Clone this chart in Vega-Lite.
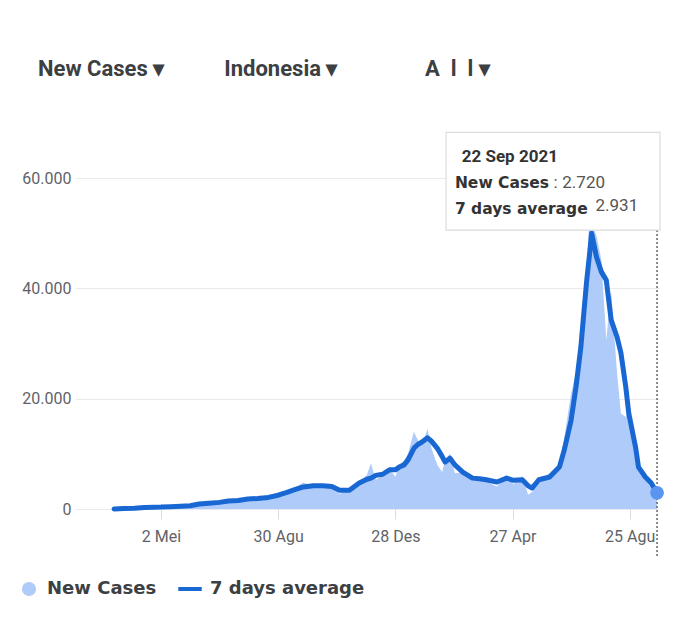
{
  "$schema": "https://vega.github.io/schema/vega-lite/v6.json",
  "autosize": {"type": "none"},
  "padding": {"left": 75, "top": 134, "right": 28, "bottom": 128},
  "width": 584,
  "height": 375,
  "background": "white",
  "title": {
    "text": "New Cases ▾\u00a0\u00a0\u00a0\u00a0\u00a0\u00a0\u00a0\u00a0\u00a0\u00a0\u00a0Indonesia ▾\u00a0\u00a0\u00a0\u00a0\u00a0\u00a0\u00a0\u00a0\u00a0\u00a0\u00a0\u00a0\u00a0\u00a0\u00a0\u00a0A\u00a0\u00a0l\u00a0\u00a0l\u00a0▾",
    "anchor": "start",
    "frame": "group",
    "dx": -37,
    "offset": 51,
    "font": "Roboto",
    "fontSize": 22,
    "fontWeight": "bold",
    "color": "#3c4043"
  },
  "config": {
    "view": {"stroke": null},
    "locale": {
      "number": {"decimal": ",", "thousands": ".", "grouping": [3], "currency": ["Rp", ""]},
      "time": {
        "dateTime": "%A, %e %B %Y %H.%M.%S",
        "date": "%d/%m/%Y",
        "time": "%H.%M.%S",
        "periods": ["AM", "PM"],
        "days": ["Minggu", "Senin", "Selasa", "Rabu", "Kamis", "Jumat", "Sabtu"],
        "shortDays": ["Min", "Sen", "Sel", "Rab", "Kam", "Jum", "Sab"],
        "months": ["Januari", "Februari", "Maret", "April", "Mei", "Juni", "Juli", "Agustus", "September", "Oktober", "November", "Desember"],
        "shortMonths": ["Jan", "Feb", "Mar", "Apr", "Mei", "Jun", "Jul", "Agu", "Sep", "Okt", "Nov", "Des"]
      }
    }
  },
  "data": {
    "values": [
      {"date": "2020-03-15", "cases": 20, "avg": 15},
      {"date": "2020-03-25", "cases": 100, "avg": 80},
      {"date": "2020-04-05", "cases": 180, "avg": 150},
      {"date": "2020-04-15", "cases": 300, "avg": 280},
      {"date": "2020-04-25", "cases": 400, "avg": 330},
      {"date": "2020-05-02", "cases": 290, "avg": 350},
      {"date": "2020-05-12", "cases": 480, "avg": 420},
      {"date": "2020-05-22", "cases": 600, "avg": 520},
      {"date": "2020-06-01", "cases": 460, "avg": 600},
      {"date": "2020-06-10", "cases": 1200, "avg": 900},
      {"date": "2020-06-20", "cases": 1230, "avg": 1050},
      {"date": "2020-07-01", "cases": 1300, "avg": 1200},
      {"date": "2020-07-10", "cases": 1600, "avg": 1450},
      {"date": "2020-07-20", "cases": 1700, "avg": 1550},
      {"date": "2020-07-30", "cases": 2000, "avg": 1800},
      {"date": "2020-08-09", "cases": 1900, "avg": 1900},
      {"date": "2020-08-20", "cases": 2200, "avg": 2100},
      {"date": "2020-08-30", "cases": 2900, "avg": 2500},
      {"date": "2020-09-08", "cases": 3000, "avg": 3000},
      {"date": "2020-09-16", "cases": 3900, "avg": 3500},
      {"date": "2020-09-25", "cases": 4800, "avg": 4000},
      {"date": "2020-10-05", "cases": 4000, "avg": 4200},
      {"date": "2020-10-15", "cases": 4400, "avg": 4200},
      {"date": "2020-10-24", "cases": 4300, "avg": 4100},
      {"date": "2020-11-01", "cases": 2700, "avg": 3400},
      {"date": "2020-11-11", "cases": 3800, "avg": 3400},
      {"date": "2020-11-21", "cases": 4800, "avg": 4700},
      {"date": "2020-11-29", "cases": 6200, "avg": 5400},
      {"date": "2020-12-03", "cases": 8300, "avg": 5600},
      {"date": "2020-12-08", "cases": 5300, "avg": 6100},
      {"date": "2020-12-15", "cases": 6100, "avg": 6300},
      {"date": "2020-12-22", "cases": 7400, "avg": 7100},
      {"date": "2020-12-28", "cases": 5800, "avg": 7100},
      {"date": "2021-01-01", "cases": 8000, "avg": 7600},
      {"date": "2021-01-06", "cases": 8800, "avg": 8000},
      {"date": "2021-01-10", "cases": 10000, "avg": 8900},
      {"date": "2021-01-16", "cases": 14000, "avg": 11000},
      {"date": "2021-01-20", "cases": 12500, "avg": 11700},
      {"date": "2021-01-24", "cases": 11500, "avg": 12100},
      {"date": "2021-01-30", "cases": 14500, "avg": 12900},
      {"date": "2021-02-03", "cases": 11000, "avg": 12300},
      {"date": "2021-02-09", "cases": 8000, "avg": 11000},
      {"date": "2021-02-14", "cases": 6700, "avg": 9500},
      {"date": "2021-02-17", "cases": 9000, "avg": 8500},
      {"date": "2021-02-22", "cases": 10000, "avg": 9200},
      {"date": "2021-02-27", "cases": 6500, "avg": 8000},
      {"date": "2021-03-07", "cases": 6600, "avg": 6700},
      {"date": "2021-03-17", "cases": 6000, "avg": 5600},
      {"date": "2021-03-24", "cases": 5200, "avg": 5500},
      {"date": "2021-03-31", "cases": 5000, "avg": 5300},
      {"date": "2021-04-11", "cases": 4100, "avg": 4900},
      {"date": "2021-04-21", "cases": 6000, "avg": 5600},
      {"date": "2021-04-28", "cases": 4500, "avg": 5200},
      {"date": "2021-05-07", "cases": 6000, "avg": 5300},
      {"date": "2021-05-13", "cases": 2600, "avg": 4200},
      {"date": "2021-05-17", "cases": 3100, "avg": 3800},
      {"date": "2021-05-24", "cases": 4900, "avg": 5300},
      {"date": "2021-06-04", "cases": 6500, "avg": 5800},
      {"date": "2021-06-14", "cases": 8200, "avg": 7600},
      {"date": "2021-06-19", "cases": 12900, "avg": 10700},
      {"date": "2021-06-26", "cases": 21000, "avg": 16100},
      {"date": "2021-07-01", "cases": 24800, "avg": 22100},
      {"date": "2021-07-06", "cases": 31200, "avg": 29400},
      {"date": "2021-07-09", "cases": 38100, "avg": 35500},
      {"date": "2021-07-12", "cases": 40400, "avg": 41500},
      {"date": "2021-07-15", "cases": 56700, "avg": 46400},
      {"date": "2021-07-17", "cases": 51900, "avg": 50000},
      {"date": "2021-07-22", "cases": 49500, "avg": 45700},
      {"date": "2021-07-27", "cases": 45200, "avg": 43000},
      {"date": "2021-08-01", "cases": 30700, "avg": 41500},
      {"date": "2021-08-06", "cases": 39500, "avg": 34300},
      {"date": "2021-08-12", "cases": 24700, "avg": 31200},
      {"date": "2021-08-16", "cases": 17300, "avg": 28300},
      {"date": "2021-08-21", "cases": 16700, "avg": 22100},
      {"date": "2021-08-24", "cases": 19300, "avg": 17400},
      {"date": "2021-08-31", "cases": 10500, "avg": 11200},
      {"date": "2021-09-03", "cases": 7800, "avg": 7600},
      {"date": "2021-09-10", "cases": 5300, "avg": 5800},
      {"date": "2021-09-16", "cases": 4000, "avg": 4700},
      {"date": "2021-09-22", "cases": 2720, "avg": 2931}
    ]
  },
  "layer": [
    {
      "mark": {"type": "area", "interpolate": "linear", "opacity": 1},
      "encoding": {
        "x": {
          "field": "date",
          "type": "temporal",
          "title": null,
          "scale": {"domain": [{"year": 2020, "month": 2, "date": 4}, {"year": 2021, "month": 9, "date": 24}]},
          "axis": {
            "values": [
              {"year": 2020, "month": 5, "date": 2},
              {"year": 2020, "month": 8, "date": 30},
              {"year": 2020, "month": 12, "date": 28},
              {"year": 2021, "month": 4, "date": 27},
              {"year": 2021, "month": 8, "date": 25}
            ],
            "format": "%-d %b",
            "domain": false,
            "grid": false,
            "tickColor": "#dadce0",
            "tickSize": 10,
            "labelPadding": 9,
            "labelFont": "Roboto",
            "labelFontSize": 16,
            "labelColor": "#5f6368"
          }
        },
        "y": {
          "field": "cases",
          "type": "quantitative",
          "title": null,
          "scale": {"domain": [0, 68000], "nice": false},
          "axis": {
            "values": [0, 20000, 40000, 60000],
            "format": ",d",
            "domain": false,
            "ticks": false,
            "grid": true,
            "gridColor": "#e8eaed",
            "labelPadding": 4,
            "labelFont": "Roboto",
            "labelFontSize": 16,
            "labelColor": "#5f6368"
          }
        },
        "fill": {
          "datum": "New Cases",
          "type": "nominal",
          "scale": {"domain": ["New Cases"], "range": ["#aecbfa"]},
          "legend": {
            "orient": "none",
            "legendX": -55,
            "legendY": 446,
            "title": null,
            "symbolType": "circle",
            "symbolSize": 200,
            "symbolStrokeWidth": 0,
            "labelFont": "DejaVu Sans",
            "labelFontSize": 18,
            "labelFontWeight": "bold",
            "labelColor": "#3c4043",
            "labelOffset": 9
          }
        }
      }
    },
    {
      "mark": {"type": "line", "strokeWidth": 5, "strokeJoin": "round", "strokeCap": "round"},
      "encoding": {
        "x": {"field": "date", "type": "temporal"},
        "y": {"field": "avg", "type": "quantitative"},
        "stroke": {
          "datum": "7 days average",
          "type": "nominal",
          "scale": {"domain": ["7 days average"], "range": ["#1967d2"]},
          "legend": {
            "orient": "none",
            "legendX": 101,
            "legendY": 441,
            "title": null,
            "symbolType": "stroke",
            "symbolSize": 550,
            "symbolStrokeWidth": 4,
            "labelFont": "DejaVu Sans",
            "labelFontSize": 18,
            "labelFontWeight": "bold",
            "labelColor": "#3c4043",
            "labelOffset": 6
          }
        }
      }
    },
    {
      "transform": [{"filter": "datum.avg == 2931"}],
      "mark": {"type": "rule", "color": "#666666", "strokeWidth": 1.5, "strokeDash": [2, 2]},
      "encoding": {
        "x": {"field": "date", "type": "temporal"},
        "y": {"datum": 50570, "type": "quantitative"},
        "y2": {"datum": -8500}
      }
    },
    {
      "transform": [{"filter": "datum.avg == 2931"}],
      "mark": {"type": "point", "filled": true, "color": "#5b95f2", "size": 190, "opacity": 1},
      "encoding": {
        "x": {"field": "date", "type": "temporal"},
        "y": {"field": "avg", "type": "quantitative"}
      }
    },
    {
      "transform": [{"filter": "datum.avg == 2931"}],
      "mark": {"type": "rect", "fill": "white", "stroke": "#dcdcdc", "strokeWidth": 1.2},
      "encoding": {
        "x": {"datum": {"year": 2021, "month": 2, "date": 18}, "type": "temporal"},
        "x2": {"datum": {"year": 2021, "month": 9, "date": 25}},
        "y": {"datum": 68300, "type": "quantitative"},
        "y2": {"datum": 50570}
      }
    },
    {
      "transform": [{"filter": "datum.avg == 2931"}],
      "mark": {"type": "text", "align": "left", "baseline": "middle", "font": "Roboto", "fontSize": 17, "fontWeight": "bold", "color": "#333333"},
      "encoding": {
        "x": {"datum": {"year": 2021, "month": 3, "date": 6}, "type": "temporal"},
        "y": {"datum": 63800, "type": "quantitative"},
        "text": {"field": "date", "type": "temporal", "format": "%-d %b %Y"}
      }
    },
    {
      "transform": [{"filter": "datum.avg == 2931"}],
      "mark": {"type": "text", "align": "left", "baseline": "middle", "font": "DejaVu Sans", "fontSize": 15.5, "fontWeight": "bold", "color": "#333333", "text": "New Cases"},
      "encoding": {
        "x": {"datum": {"year": 2021, "month": 2, "date": 27}, "type": "temporal"},
        "y": {"datum": 59090, "type": "quantitative"}
      }
    },
    {
      "transform": [{"filter": "datum.avg == 2931"}],
      "mark": {"type": "text", "align": "left", "baseline": "middle", "font": "Roboto", "fontSize": 17, "color": "#555555", "text": ":"},
      "encoding": {
        "x": {"datum": {"year": 2021, "month": 6, "date": 8}, "type": "temporal"},
        "y": {"datum": 59090, "type": "quantitative"}
      }
    },
    {
      "transform": [{"filter": "datum.avg == 2931"}],
      "mark": {"type": "text", "align": "left", "baseline": "middle", "font": "Roboto", "fontSize": 17, "color": "#555555"},
      "encoding": {
        "x": {"datum": {"year": 2021, "month": 6, "date": 17}, "type": "temporal"},
        "y": {"datum": 59090, "type": "quantitative"},
        "text": {"field": "cases", "type": "quantitative", "format": ",d"}
      }
    },
    {
      "transform": [{"filter": "datum.avg == 2931"}],
      "mark": {"type": "text", "align": "left", "baseline": "middle", "font": "DejaVu Sans", "fontSize": 15.5, "fontWeight": "bold", "color": "#333333", "text": "7 days average"},
      "encoding": {
        "x": {"datum": {"year": 2021, "month": 2, "date": 27}, "type": "temporal"},
        "y": {"datum": 54380, "type": "quantitative"}
      }
    },
    {
      "transform": [{"filter": "datum.avg == 2931"}],
      "mark": {"type": "text", "align": "left", "baseline": "middle", "font": "Roboto", "fontSize": 17, "color": "#555555"},
      "encoding": {
        "x": {"datum": {"year": 2021, "month": 7, "date": 21}, "type": "temporal"},
        "y": {"datum": 54920, "type": "quantitative"},
        "text": {"field": "avg", "type": "quantitative", "format": ",d"}
      }
    }
  ]
}
